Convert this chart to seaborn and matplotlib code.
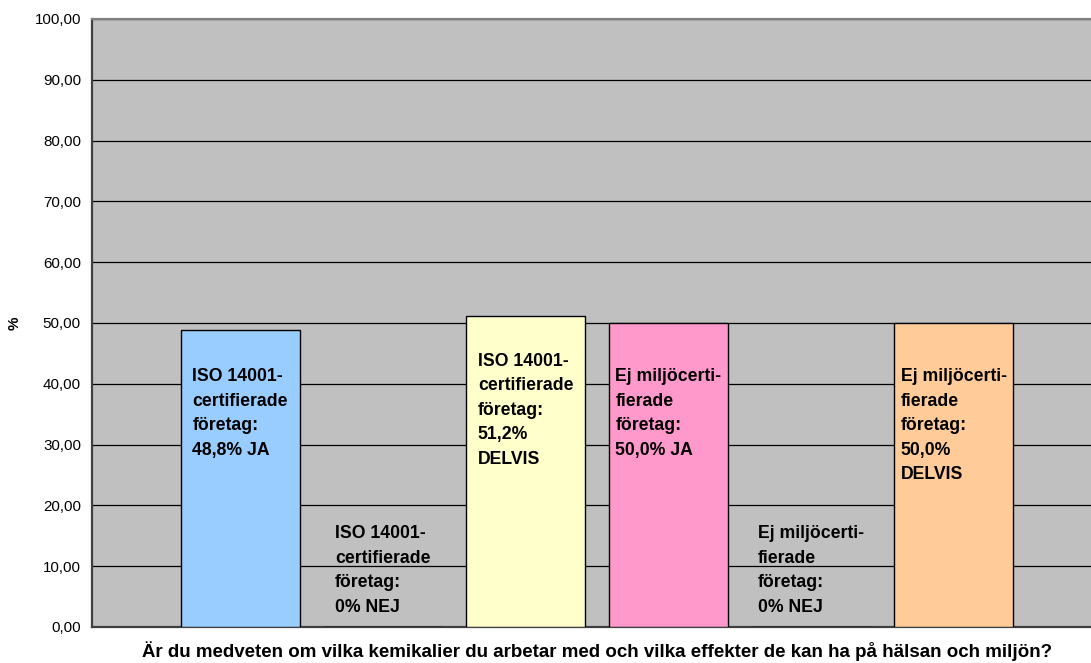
import matplotlib
matplotlib.use("Agg")
import matplotlib.pyplot as plt
import seaborn as sns
import pandas as pd

# Survey answers: share of companies aware of the chemicals they work with
serier = [
    "ISO 14001 JA", "ISO 14001 NEJ", "ISO 14001 DELVIS",
    "Ej miljöcert JA", "Ej miljöcert NEJ", "Ej miljöcert DELVIS",
]
procent = [48.8, 0.0, 51.2, 50.0, 0.0, 50.0]
etiketter = [
    "ISO 14001-\ncertifierade\nföretag:\n48,8% JA",
    "ISO 14001-\ncertifierade\nföretag:\n0% NEJ",
    "ISO 14001-\ncertifierade\nföretag:\n51,2%\nDELVIS",
    "Ej miljöcerti-\nfierade\nföretag:\n50,0% JA",
    "Ej miljöcerti-\nfierade\nföretag:\n0% NEJ",
    "Ej miljöcerti-\nfierade\nföretag:\n50,0%\nDELVIS",
]
farger = ["#99CCFF", "#9999FF", "#FFFFCC", "#FF99CC", "#993366", "#FFCC99"]
y_ticks = [0, 10, 20, 30, 40, 50, 60, 70, 80, 90, 100]
y_label = "%"
x_label = ("Är du medveten om vilka kemikalier du arbetar med och vilka "
           "effekter de kan ha på hälsan och miljön?")

df = pd.DataFrame({"fraga": [""] * len(serier), "serie": serier, "procent": procent})

sns.set_theme(style="white")
plt.rcParams["font.family"] = ["Liberation Sans", "DejaVu Sans"]
plt.rcParams["text.color"] = "black"
plt.rcParams["axes.labelcolor"] = "black"

fig = plt.figure(figsize=(10.91, 6.63), dpi=100)
W, H = 1091, 663
ax = fig.add_axes([92 / W, (H - 627) / H, 1010 / W, 608 / H])
ax.set_facecolor("#C0C0C0")

sns.barplot(data=df, x="fraga", y="procent", hue="serie", hue_order=serier,
            palette=farger, saturation=1, width=0.848, gap=0.166,
            edgecolor="black", linewidth=1.0, legend=False, ax=ax, zorder=3)

ax.set_xlim(-0.5, 0.5)
ax.set_ylim(0, 100)
ax.set_yticks(y_ticks)
ax.set_yticklabels([f"{v:.2f}".replace(".", ",") for v in y_ticks], fontsize=10.9)
ax.set_xticks([-0.5, 0.5])
ax.set_xticklabels(["", ""])
ax.tick_params(axis="both", direction="out", length=5, width=1, color="#333333",
               pad=3, labelcolor="black")
ax.tick_params(axis="x", length=6)
ax.yaxis.grid(True, color="black", linewidth=0.9, zorder=1)
ax.set_axisbelow(True)

for side in ["left", "bottom"]:
    ax.spines[side].set_color("#404040")
    ax.spines[side].set_linewidth(1.6)
ax.spines["top"].set_color("#808080")
ax.spines["top"].set_linewidth(1.6)
ax.spines["right"].set_visible(False)

ax.set_ylabel(y_label, fontsize=11, fontweight="bold", color="black")
ax.yaxis.set_label_coords(-70 / 1010, 0.5)
ax.set_xlabel(x_label, fontsize=13.5, fontweight="bold", color="black")
ax.xaxis.set_label_coords(0.5, -14 / 608)

# Data labels: inside the tall bars, above the axis for the empty ones
offs_px = [-38, 102, -37, -45, 102, -45]
for cont, text, off in zip(ax.containers, etiketter, offs_px):
    bar = cont[0]
    cx = bar.get_x() + bar.get_width() / 2
    ax.annotate(text, xy=(cx, bar.get_height()), xytext=(0, off * 0.72),
                textcoords="offset points", ha="center", va="top",
                multialignment="left", fontsize=12.7, fontweight="bold",
                linespacing=1.58, color="black", zorder=5)

fig.savefig("out.png", dpi=100)
